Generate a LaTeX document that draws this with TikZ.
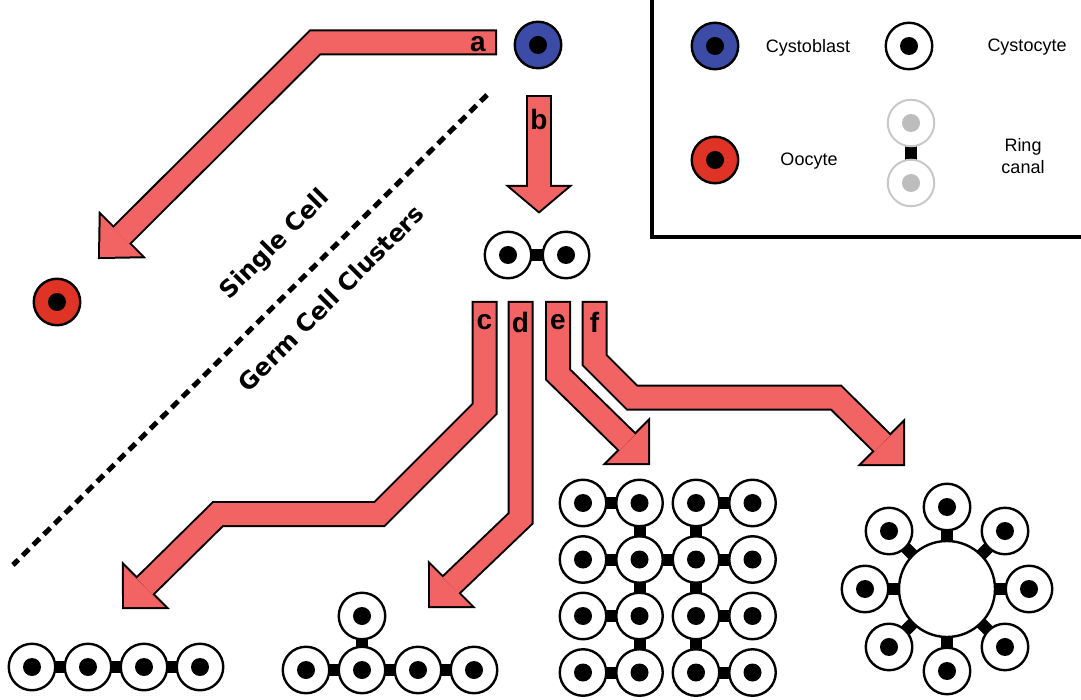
\documentclass[tikz,border=0pt]{standalone}
\usepackage{fontspec}
\setmainfont{Liberation Sans}
\newfontfamily\sidefont{DejaVu Sans}
\usetikzlibrary{calc,backgrounds}

\definecolor{arrowred}{HTML}{F26464}
\definecolor{blastblue}{HTML}{3C4BA6}
\definecolor{oored}{HTML}{DE3325}
\definecolor{ghost}{HTML}{C8C8C8}
\definecolor{ghostnuc}{HTML}{BDBDBD}

\tikzset{
  cell/.style={circle, draw=black, line width=2.4pt, fill=white,
    minimum size=46.5pt, inner sep=0pt,
    path picture={\fill[black] (path picture bounding box.center) circle (9pt);}},
  blast/.style={cell, fill=blastblue},
  oocyte/.style={cell, fill=oored},
  ghostcell/.style={circle, draw=ghost, line width=2pt, fill=white,
    minimum size=46.5pt, inner sep=0pt,
    path picture={\fill[ghostnuc] (path picture bounding box.center) circle (9pt);}},
  hub/.style={circle, draw=black, line width=2.4pt, fill=white,
    minimum size=96pt, inner sep=0pt},
  canal/.style={line width=12pt, black},
  steplabel/.style={font=\bfseries\fontsize{28}{28}\selectfont, inner sep=0pt},
  legendtext/.style={font=\fontsize{18}{22}\selectfont, align=center},
  divider/.style={line width=5pt, dash pattern=on 9pt off 6pt},
  sidetext/.style={font=\sidefont\bfseries\fontsize{24}{24}\selectfont, rotate=45},
}

% Broad outlined arrow: #1 shaft path ending at the head base #2, tip #3,
% #4 half width of the head
\newcommand\fatarrow[4]{%
  \coordinate (hl) at ($(#2)!#4!90:(#3)$);
  \coordinate (hr) at ($(#2)!#4!-90:(#3)$);
  \draw[black, line width=26pt, line join=miter, shorten <=-2pt] #1;
  \filldraw[black, line width=4pt, line join=miter] (hl) -- (#3) -- (hr) -- cycle;
  \draw[arrowred, line width=22pt, line join=miter] #1;
  \fill[arrowred] (hl) -- (#3) -- (hr) -- cycle;
}

\begin{document}
\begin{tikzpicture}[x=1pt, y=-1pt]
\useasboundingbox (0,0) rectangle (1081,700);

% ---- legend ----
\draw[line width=3.5pt] (652,-5) -- (652,237) -- (1090,237);
\node[blast] (lgblast) at (715,46) {};
\node[legendtext] (lgblastt) at (808,48) {Cystoblast};
\node[cell] (lgcyst) at (909,46) {};
\node[legendtext] (lgcystt) at (1027,47) {Cystocyte};
\node[oocyte] (lgoo) at (715,160) {};
\node[legendtext] (lgoot) at (809,161) {Oocyte};
\node[ghostcell] (lgr1) at (911,123) {};
\node[ghostcell] (lgr2) at (911,183) {};
\node[legendtext] (lgrt) at (1023,156) {Ring\\canal};

% ---- single cells and the first pair ----
\node[blast] (cb) at (538,45) {};
\node[oocyte] (oo) at (57,302) {};
\node[cell] (p1) at (508,255) {};
\node[cell] (p2) at (566,255) {};

% ---- four-cell chain ----
\node[cell] (ch1) at (32,667) {};
\node[cell] (ch2) at (88,667) {};
\node[cell] (ch3) at (144,667) {};
\node[cell] (ch4) at (200,667) {};

% ---- branched four-plus-one cluster ----
\node[cell] (t1) at (306,670) {};
\node[cell] (t2) at (362,670) {};
\node[cell] (t3) at (418,670) {};
\node[cell] (t4) at (474,670) {};
\node[cell] (t0) at (362,616) {};

% ---- sixteen-cell cyst ----
\foreach \r [count=\i] in {503,559.5,616,672.5}{
  \foreach \c [count=\j] in {583,639.5,696,752.5}{
    \node[cell] (g\i\j) at (\c,\r) {};
  }
}

% ---- rosette around a central cell ----
\node[hub] (hub) at (947,589) {};
\foreach \a [count=\k] in {90,45,0,-45,-90,-135,180,135}{
  \node[cell] (r\k) at ($(hub.center)+({82*cos(\a)},{-82*sin(\a)})$) {};
}

% ---- ring canals ----
\begin{pgfonlayer}{background}
  \draw[canal] (lgr1.center) -- (lgr2.center);
  \draw[canal] (p1.center) -- (p2.center);
  \draw[canal] (ch1.center) -- (ch4.center);
  \draw[canal] (t1.center) -- (t4.center);
  \draw[canal] (t0.center) -- (t2.center);
  \foreach \i in {1,...,4}{
    \draw[canal] (g\i1.center) -- (g\i2.center);
    \draw[canal] (g\i3.center) -- (g\i4.center);
  }
  \draw[canal] (g22.center) -- (g23.center);
  \draw[canal] (g12.center) -- (g42.center);
  \draw[canal] (g13.center) -- (g43.center);
  \foreach \k in {1,...,8}{
    \draw[canal] (hub.center) -- (r\k.center);
  }
\end{pgfonlayer}

% ---- divider between single cells and clusters ----
\coordinate (dvtop) at (487,95);
\coordinate (dvbot) at (13,565);
\draw[divider] (dvtop) -- (dvbot);
\node[sidetext] (single) at (275,245) {Single Cell};
\node[sidetext] (clusters) at (331,298) {Germ Cell Clusters};

% ---- arrows ----
% a: cystoblast to oocyte
\coordinate (aS) at (495,42.5);
\coordinate (aB) at (121.2,235.8);
\coordinate (aT) at (100,257);
\fatarrow{(aS) -- (315,42.5) -- (aB)}{aB}{aT}{29pt}
\node[steplabel] (la) at (478,44) {a};

% b: cystoblast to two-cell cyst
\coordinate (bS) at (539,97);
\coordinate (bB) at (539,187);
\coordinate (bT) at (539,211);
\fatarrow{(bS) -- (bB)}{bB}{bT}{28.5pt}
\node[steplabel] (lb) at (539,119) {b};

% c: to the chain
\coordinate (cS) at (484.5,303);
\coordinate (cB) at (144.5,586.5);
\coordinate (cT) at (124,607);
\fatarrow{(cS) -- (484.5,409) -- (379.5,514) -- (218,514) -- (cB)}{cB}{cT}{29pt}
\node[steplabel] (lc) at (484.5,322) {c};

% d: to the branched cluster
\coordinate (dS) at (520.5,303);
\coordinate (dB) at (450.5,585.5);
\coordinate (dT) at (430,606);
\fatarrow{(dS) -- (520.5,518.5) -- (dB)}{dB}{dT}{29pt}
\node[steplabel] (ld) at (520.5,322) {d};

% e: to the sixteen-cell cyst
\coordinate (eS) at (558,303);
\coordinate (eB) at (627.5,442.5);
\coordinate (eT) at (648,463);
\fatarrow{(eS) -- (558,374.5) -- (eB)}{eB}{eT}{29pt}
\node[steplabel] (le) at (558,322) {e};

% f: to the rosette
\coordinate (fS) at (594.5,303);
\coordinate (fB) at (882.5,443.5);
\coordinate (fT) at (903,464);
\fatarrow{(fS) -- (594.5,360) -- (632,397.5) -- (836,397.5) -- (fB)}{fB}{fT}{29pt}
\node[steplabel] (lf) at (594.5,322) {f};

\end{tikzpicture}
\end{document}
